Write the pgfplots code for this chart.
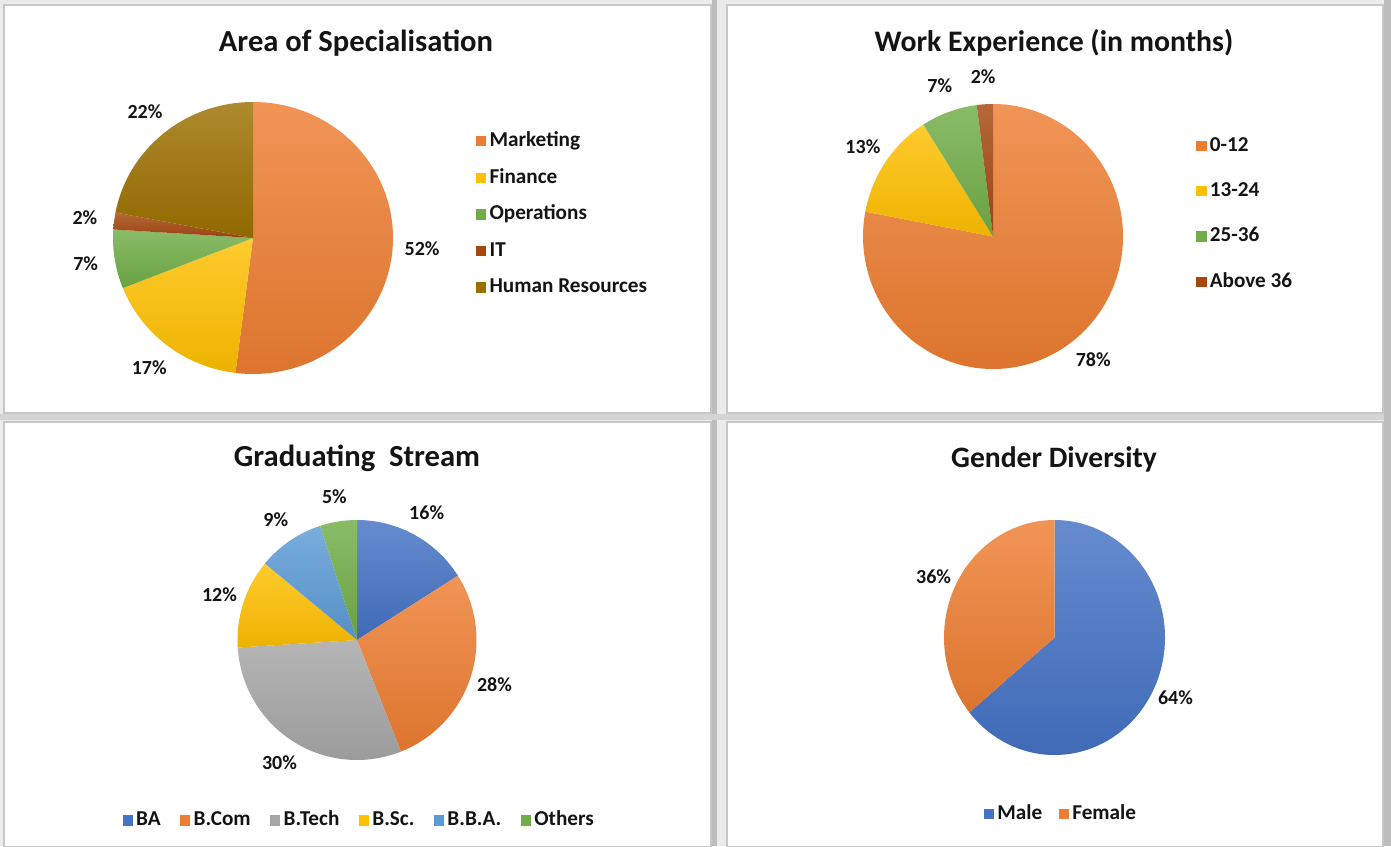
\documentclass[border=0pt]{standalone}
\usepackage{pgfplots}
\usepackage{pgfplotstable}
\pgfplotsset{compat=1.18}
\usepackage{fontspec}
\setmainfont{Carlito}
\definecolor{cOr}{HTML}{ED7D31}
\definecolor{cGo}{HTML}{FFC000}
\definecolor{cGr}{HTML}{70AD47}
\definecolor{cIT}{HTML}{A5470F}
\definecolor{cHR}{HTML}{9C7000}
\definecolor{cBl}{HTML}{4472C4}
\definecolor{cGy}{HTML}{A5A5A5}
\definecolor{cLb}{HTML}{5B9BD5}
\definecolor{txt}{HTML}{141414}

\pgfplotstableread{
label value color
Marketing 52 cOr
Finance 17 cGo
Operations 7 cGr
IT 2 cIT
{Human Resources} 22 cHR
}\tblA
\pgfplotstableread{
label value color
0-12 78 cOr
13-24 13 cGo
25-36 7 cGr
{Above 36} 2 cIT
}\tblB
\pgfplotstableread{
label value color
BA 16 cBl
B.Com 28 cOr
B.Tech 30 cGy
B.Sc. 12 cGo
B.B.A. 9 cLb
Others 5 cGr
}\tblC
\pgfplotstableread{
label value color
Male 64 cBl
Female 36 cOr
}\tblD

\newcommand{\lblfont}{\fontsize{10pt}{12pt}\selectfont\bfseries}
% draw a pie from a table (clockwise from top, like Excel)
\newcommand{\drawpie}[1]{%
  \pgfplotstablegetrowsof{#1}\let\nrows\pgfplotsretval
  \def\cum{90}%
  \pgfplotsforeachungrouped \i in {1,...,\nrows}{%
    \pgfmathtruncatemacro\row{\i-1}%
    \pgfplotstablegetelem{\row}{value}\of{#1}\let\val\pgfplotsretval
    \pgfplotstablegetelem{\row}{color}\of{#1}\let\col\pgfplotsretval
    \pgfplotstablegetelem{\row}{label}\of{#1}\let\lab\pgfplotsretval
    \pgfmathsetmacro\endang{\cum-3.6*\val}%
    \pgfmathsetmacro\midang{(\cum+\endang)/2}%
    \edef\temp{%
      \noexpand\shade[top color=\col!82!white, bottom color=\col!93!black, shading angle=0]
        (axis cs:0,0) -- (axis cs:{cos(\cum)},{sin(\cum)})
        arc[start angle=\cum, end angle=\endang, x radius=1, y radius=1] -- cycle;
      \noexpand\node[font=\noexpand\lblfont, text=txt] at (axis cs:{1.21*cos(\midang)},{1.21*sin(\midang)}) {\val\noexpand\%};
      \noexpand\addlegendimage{fill=\col}%
      \noexpand\addlegendentry{\lab}%
    }%
    \temp
    \let\cum\endang
  }%
}

\pgfplotsset{
  pieaxis/.style={
    hide axis, scale only axis, anchor=center,
    xmin=-1, xmax=1, ymin=-1, ymax=1,
    clip=false,
    legend image code/.code={\fill[##1, draw=none] (0pt,-2.6pt) rectangle (5.2pt,2.6pt);},
    legend style={draw=none, fill=none, font=\fontsize{10.6pt}{12pt}\selectfont\bfseries, text=txt,
      legend cell align=left, inner sep=0pt,
      nodes={inner sep=1.2pt, text height=7.5pt, text depth=2.2pt},
      /tikz/every odd column/.append style={column sep=0.4pt}},
  },
}

\begin{document}
\begin{tikzpicture}
\path[use as bounding box] (0,0) rectangle (695.5pt,-423pt);
% background and panels
\fill[black!8] (0,0) rectangle (695.5pt,-423pt);
\fill[black!26] (356pt,0) rectangle (358.5pt,-423pt);
\fill[black!17] (0,-207pt) rectangle (695.5pt,-210pt);
\fill[black!26] (692pt,0) rectangle (695.5pt,-423pt);
\foreach \a/\b/\c/\d in {2/2.5/355.5/206.5, 363.5/2.5/691.5/206.5, 2/211/355.5/423.5, 363.5/211/691.5/423.5}{
  \filldraw[fill=white, draw=black!22, line width=0.6pt] (\a pt,-\b pt) rectangle (\c pt,-\d pt);
}
% titles
\node[font=\fontsize{15.3pt}{18pt}\selectfont\bfseries, text=txt] at (178pt,-21.5pt) {Area of Specialisation};
\node[font=\fontsize{14.9pt}{18pt}\selectfont\bfseries, text=txt] at (527pt,-21.5pt) {Work Experience (in months)};
\node[font=\fontsize{15.3pt}{18pt}\selectfont\bfseries, text=txt] at (178.5pt,-229pt) {Graduating\ \ Stream};
\node[font=\fontsize{14.8pt}{18pt}\selectfont\bfseries, text=txt] at (527pt,-229.5pt) {Gender Diversity};

% TL pie
\begin{axis}[pieaxis, at={(126.5pt,-119pt)}, width=140pt, height=136pt,
  legend style={at={(1.295,0.587)}, anchor=west, row sep=6.2pt}]
\drawpie{\tblA}
\end{axis}
% TR pie
\begin{axis}[pieaxis, at={(496.5pt,-118.25pt)}, width=130pt, height=132.5pt,
  legend style={at={(1.28,0.585)}, anchor=west, row sep=10.6pt}]
\drawpie{\tblB}
\end{axis}
% BL pie
\begin{axis}[pieaxis, at={(178.5pt,-320pt)}, width=119.5pt, height=120pt,
  legend columns=-1,
  legend style={at={(0.51,-0.252)}, anchor=center,
    /tikz/every even column/.append style={column sep=8.5pt}}]
\drawpie{\tblC}
\end{axis}
% BR pie
\begin{axis}[pieaxis, at={(527.25pt,-318.75pt)}, width=110.5pt, height=117.5pt,
  legend columns=-1,
  legend style={at={(0.53,-0.252)}, anchor=center,
    /tikz/every even column/.append style={column sep=7pt}}]
\drawpie{\tblD}
\end{axis}
\end{tikzpicture}
\end{document}
